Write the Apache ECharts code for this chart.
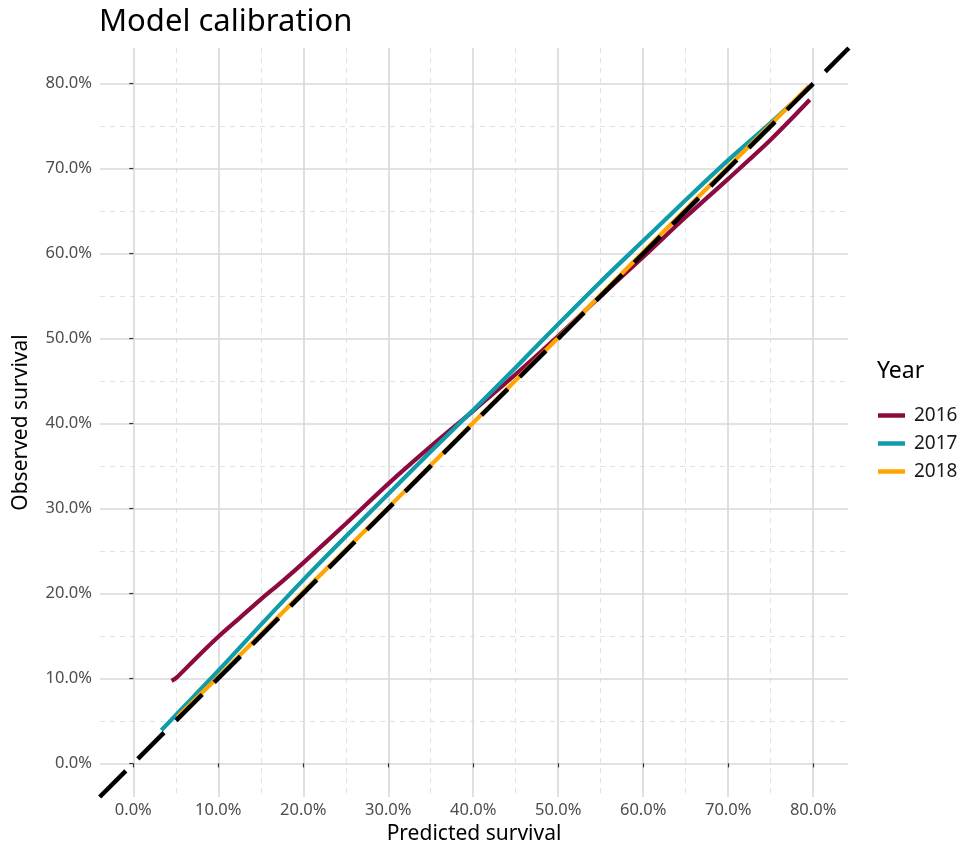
<!DOCTYPE html>
<html>
<head>
<meta charset="utf-8">
<script src="https://cdn.jsdelivr.net/npm/echarts@6/dist/echarts.min.js"></script>
<style>
  html, body { margin: 0; padding: 0; background: #ffffff; }
  #chart { width: 976px; height: 853px; }
</style>
</head>
<body>
<div id="chart"></div>
<script>
// ---- data (percent) ----
const years = ['2016', '2017', '2018'];

const pred2016 = [4.5, 5.1, 7.5, 10, 12.5, 15, 17.5, 20, 25, 30, 35, 40, 45, 50, 55, 60, 65, 70, 75, 79.6];
const obs2016  = [9.7, 10.1, 12.5, 14.9, 17.1, 19.3, 21.4, 23.6, 28.2, 32.9, 37.3, 41.5, 45.8, 50.3, 55.0, 59.6, 64.3, 68.8, 73.4, 78.1];

const pred2017 = [3.3, 5.5, 10, 15, 20, 25, 30, 35, 40, 45, 50, 55, 60, 65, 70, 75, 77.5];
const obs2017  = [3.9, 6.2, 10.9, 16.3, 21.6, 26.7, 31.7, 36.7, 41.6, 46.6, 51.7, 56.7, 61.5, 66.3, 71.0, 75.4, 77.7];

const pred2018 = [5.2, 10, 20, 30, 40, 50, 60, 70, 79.5];
const obs2018  = [5.5, 10.2, 20.2, 30.1, 40.1, 50.1, 60.2, 70.2, 79.7];

const identityLine = [-3.96, 84.2];

const majorTicks = [0, 10, 20, 30, 40, 50, 60, 70, 80];
const minorTicks = [5, 15, 25, 35, 45, 55, 65, 75];

// ---- helpers ----
const pairs = (xs, ys) => xs.map((x, i) => [x, ys[i]]);
const fmt = v => Number(v).toFixed(1) + '%';
const FONT = '"Noto Sans", "Open Sans", sans-serif';
const colors = { '2016': '#8c0a3f', '2017': '#0f9ba9', '2018': '#ffa500' };

const xMin = -3.92, xMax = 84.1, yMin = -3.96, yMax = 84.2;

function majorAxis(isX) {
  return {
    type: 'value',
    min: isX ? xMin : yMin,
    max: isX ? xMax : yMax,
    name: isX ? 'Predicted survival' : 'Observed survival',
    nameLocation: 'middle',
    nameGap: isX ? 26 : 68,
    nameTextStyle: { fontFamily: FONT, fontSize: 21, color: '#000000' },
    axisLine: { show: false },
    axisTick: { show: true, length: 4, customValues: majorTicks, lineStyle: { color: '#333333', width: 1.2 } },
    axisLabel: { show: true, customValues: majorTicks, formatter: fmt, margin: isX ? 5 : 8,
                 fontFamily: FONT, fontSize: 16.5, color: '#4d4d4d' },
    splitLine: { show: true, lineStyle: { color: '#d9d9d9', width: 1.6 } },
    z: 1
  };
}
function minorAxis(isX) {
  return {
    type: 'value',
    min: isX ? xMin : yMin,
    max: isX ? xMax : yMax,
    axisLine: { show: false },
    axisTick: { show: false, customValues: minorTicks },
    axisLabel: { show: false, customValues: minorTicks },
    splitLine: { show: true, lineStyle: { color: '#e1e1e1', width: 1, type: [5, 5] } },
    z: 0
  };
}

const lineSeries = (name, xs, ys, z) => ({
  name: name,
  type: 'line',
  data: pairs(xs, ys),
  showSymbol: false,
  smooth: 0.3,
  lineStyle: { color: colors[name], width: 4.2 },
  itemStyle: { color: colors[name] },
  z: z,
  xAxisIndex: 0, yAxisIndex: 0
});

const chart = echarts.init(document.getElementById('chart'), null, { renderer: 'canvas' });
chart.setOption({
  animation: false,
  backgroundColor: '#ffffff',
  title: [
    { text: 'Model calibration', left: 94, top: 2,
      textStyle: { fontFamily: FONT, fontSize: 31, fontWeight: 'normal', color: '#000000' } },
    { text: 'Year', left: 872, top: 355,
      textStyle: { fontFamily: FONT, fontSize: 23, fontWeight: 'normal', color: '#000000' } }
  ],
  legend: {
    data: years,
    orient: 'vertical',
    left: 873, top: 401,
    icon: 'rect',
    itemWidth: 27, itemHeight: 4.5,
    itemGap: 9,
    textStyle: { fontFamily: FONT, fontSize: 19, color: '#1a1a1a', padding: [0, 0, 0, 4] }
  },
  grid: { left: 100, top: 48, width: 748, height: 749, containLabel: false },
  xAxis: [majorAxis(true), minorAxis(true)],
  yAxis: [majorAxis(false), minorAxis(false)],
  series: [
    lineSeries('2016', pred2016, obs2016, 2),
    lineSeries('2017', pred2017, obs2017, 3),
    lineSeries('2018', pred2018, obs2018, 4),
    {
      name: 'identity',
      type: 'line',
      data: pairs(identityLine, identityLine),
      showSymbol: false,
      lineStyle: { color: '#000000', width: 4.5, type: [37, 17] },
      z: 5,
      clip: true,
      xAxisIndex: 0, yAxisIndex: 0
    }
  ]
});
</script>
</body>
</html>
